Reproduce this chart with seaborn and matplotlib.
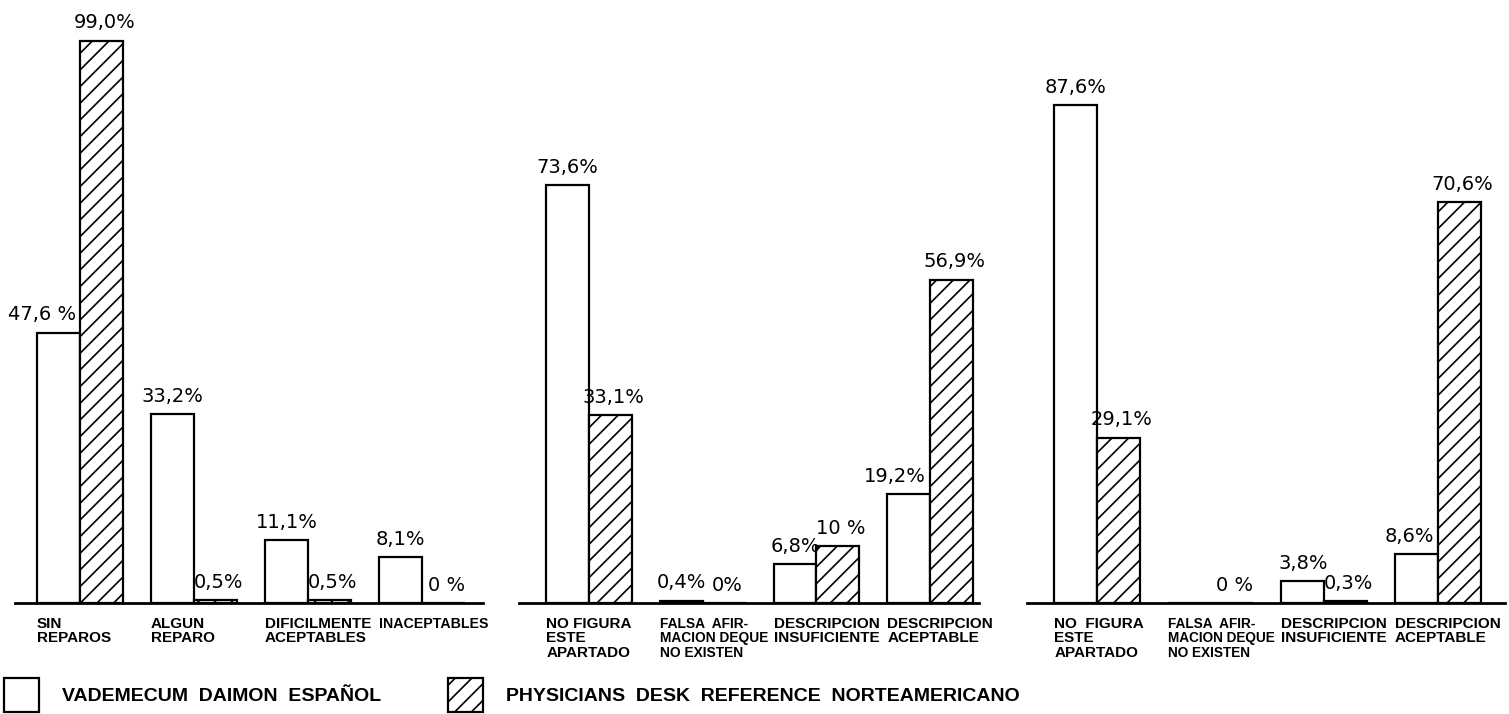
import pandas as pd
import matplotlib
matplotlib.use("Agg")
import matplotlib.pyplot as plt
from matplotlib.patches import Patch
import seaborn as sns

sns.set_theme(style="white")
plt.rcParams["font.family"] = ["Liberation Sans", "DejaVu Sans"]
plt.rcParams["hatch.linewidth"] = 1.2
plt.rcParams["text.color"] = "black"
plt.rcParams["xtick.color"] = "black"

serie = ["VADEMECUM  DAIMON  ESPAÑOL", "PHYSICIANS  DESK  REFERENCE  NORTEAMERICANO"]

cat_1 = ["SIN\nREPAROS", "ALGUN\nREPARO", "DIFICILMENTE\nACEPTABLES", "INACEPTABLES"]
vad_1 = [47.6, 33.2, 11.1, 8.1]
pdr_1 = [99.0, 0.5, 0.5, 0.0]
lab_vad_1 = ["47,6 %", "33,2%", "11,1%", "8,1%"]
lab_pdr_1 = ["99,0%", "0,5%", "0,5%", "0 %"]

cat_2 = ["NO FIGURA\nESTE\nAPARTADO", "FALSA  AFIR-\nMACION DEQUE\nNO EXISTEN",
         "DESCRIPCION\nINSUFICIENTE", "DESCRIPCION\nACEPTABLE"]
vad_2 = [73.6, 0.4, 6.8, 19.2]
pdr_2 = [33.1, 0.0, 10.0, 56.9]
lab_vad_2 = ["73,6%", "0,4%", "6,8%", "19,2%"]
lab_pdr_2 = ["33,1%", "0%", "10 %", "56,9%"]

cat_3 = ["NO  FIGURA\nESTE\nAPARTADO", "FALSA  AFIR-\nMACION DEQUE\nNO EXISTEN",
         "DESCRIPCION\nINSUFICIENTE", "DESCRIPCION\nACEPTABLE"]
vad_3 = [87.6, 0.0, 3.8, 8.6]
pdr_3 = [29.1, 0.0, 0.3, 70.6]
lab_vad_3 = ["87,6%", "", "3,8%", "8,6%"]
lab_pdr_3 = ["29,1%", "0 %", "0,3%", "70,6%"]

W, H = 1509, 714
fig = plt.figure(figsize=(W / 100, H / 100), dpi=100)

ANCHO = 0.754
BASE_Y = 603
ALTO = 570
FUENTE_VAL = ["DejaVu Sans"]

# (izquierda px, derecha px, xlim)
paneles = [
    (cat_1, vad_1, pdr_1, lab_vad_1, lab_pdr_1, 15, 483, (-0.570, 3.535)),
    (cat_2, vad_2, pdr_2, lab_vad_2, lab_pdr_2, 519, 979, (-0.616, 3.430)),
    (cat_3, vad_3, pdr_3, lab_vad_3, lab_pdr_3, 1027, 1505, (-0.616, 3.590)),
]

ejes = []
for cats, vad, pdr, lv, lp, x0, x1, xl in paneles:
    ax = fig.add_axes([x0 / W, (H - BASE_Y) / H, (x1 - x0) / W, ALTO / H])
    ejes.append(ax)
    df = pd.DataFrame({
        "cat": cats * 2,
        "fuente": [serie[0]] * 4 + [serie[1]] * 4,
        "valor": vad + pdr,
    })
    sns.barplot(data=df, x="cat", y="valor", hue="fuente", order=cats,
                hue_order=serie, palette={serie[0]: "white", serie[1]: "white"},
                edgecolor="black", linewidth=1.6, width=ANCHO, legend=False, ax=ax)
    for b in ax.containers[1]:
        b.set_hatch("//")

    for i, (b, t) in enumerate(zip(ax.containers[0], lv)):
        if not t:
            continue
        if pdr[i] > vad[i] + 5:
            ax.annotate(t, (b.get_x() + b.get_width(), b.get_height()), xytext=(-3, 6),
                        textcoords="offset points", ha="right", va="bottom",
                        fontsize=14, family=FUENTE_VAL)
        else:
            ax.annotate(t, (b.get_x() + b.get_width() / 2, b.get_height()), xytext=(0, 6),
                        textcoords="offset points", ha="center", va="bottom",
                        fontsize=14, family=FUENTE_VAL)
    for b, t in zip(ax.containers[1], lp):
        ax.annotate(t, (b.get_x() + b.get_width() / 2, b.get_height()), xytext=(2, 6),
                    textcoords="offset points", ha="center", va="bottom",
                    fontsize=14, family=FUENTE_VAL)

    ax.set_xlim(*xl)
    ax.set_ylim(0, ALTO / 5.68)
    ax.set_xticks([i - ANCHO / 2 for i in range(4)])
    ax.set_xticklabels(cats, ha="left", fontsize=11, fontweight="bold", linespacing=1.05)
    ax.tick_params(axis="x", length=0, pad=10)
    ax.set_yticks([])
    ax.set_xlabel("")
    ax.set_ylabel("")
    for s in ["top", "left", "right"]:
        ax.spines[s].set_visible(False)
    ax.spines["bottom"].set_linewidth(2)
    ax.spines["bottom"].set_color("black")
    ax.patch.set_alpha(0)

# achicar etiquetas que no caben en el espacio de su grupo
fig.canvas.draw()
r = fig.canvas.get_renderer()
for ax in ejes:
    paso = ax.transData.transform((1, 0))[0] - ax.transData.transform((0, 0))[0]
    for lab in ax.get_xticklabels():
        w = lab.get_window_extent(r).width
        if w > paso - 6:
            lab.set_fontsize(lab.get_fontsize() * (paso - 6) / w)

handles = [Patch(facecolor="white", edgecolor="black", linewidth=1.6),
           Patch(facecolor="white", edgecolor="black", linewidth=1.6, hatch="//")]
fig.legend(handles, serie, loc="lower left", bbox_to_anchor=(4 / W, 2 / H), ncol=2,
           frameon=False, prop={"size": 14, "weight": "bold"}, handlelength=1.8,
           handleheight=2.3, handletextpad=1.2, columnspacing=3.4, borderpad=0,
           borderaxespad=0)

plt.savefig("out.png", dpi=100)
